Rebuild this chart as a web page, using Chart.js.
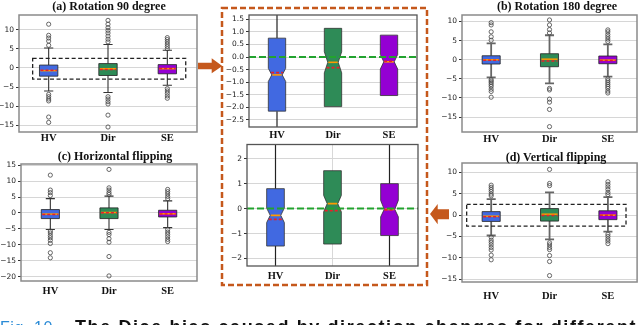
<!DOCTYPE html>
<html><head><meta charset="utf-8">
<script src="https://cdn.jsdelivr.net/npm/chart.js@4.4.1/dist/chart.umd.min.js"></script>
<style>
html,body{margin:0;padding:0;background:#fff}
body{width:640px;height:325px;overflow:hidden;position:relative}
canvas{position:absolute}
.ttl{position:absolute;font:bold 12px 'Liberation Serif',serif;white-space:nowrap;transform:translate(-50%,-50%);color:#111;line-height:14px}
#cap{position:absolute;left:0;top:317.5px;white-space:nowrap;font:bold 18px 'Liberation Sans',sans-serif;line-height:18px;color:#111;letter-spacing:1.6px}
#cap .fig{color:#2b8bd6;font-weight:normal;font-size:16px;letter-spacing:0.6px;display:inline-block;width:75px}
svg{position:absolute;left:0;top:0}
</style></head><body>
<canvas id="ca" width="205" height="145" style="left:0;top:0"></canvas>
<canvas id="cb" width="210" height="145" style="left:430px;top:0"></canvas>
<canvas id="cc" width="205" height="160" style="left:0;top:140px"></canvas>
<canvas id="cd" width="210" height="160" style="left:430px;top:140px"></canvas>
<canvas id="cmt" width="200" height="140" style="left:224px;top:0"></canvas>
<canvas id="cmb" width="200" height="142" style="left:224px;top:138px"></canvas>
<div class="ttl" style="left:109px;top:6px">(a) Rotation 90 degree</div>
<div class="ttl" style="left:557px;top:6px">(b) Rotation 180 degree</div>
<div class="ttl" style="left:115px;top:156px">(c) Horizontal flipping</div>
<div class="ttl" style="left:556px;top:157px">(d) Vertical flipping</div>
<svg width="640" height="325">
<rect x="222" y="8" width="205" height="277" fill="none" stroke="#c5581c" stroke-width="2.5" stroke-dasharray="6,3"/>
<polygon points="198,62.7 211.7,62.7 211.7,58.3 222.3,66 211.7,73.3 211.7,69.3 198,69.3" fill="#c5581c"/>
<polygon points="430,214 437.7,204 437.7,209.3 449,209.3 449,219.3 437.7,219.3 437.7,224.3" fill="#c5581c"/>
</svg>
<div id="cap"><span class="fig">Fig. 10.</span>The Dice bias caused by direction changes for different</div>
<script>
// ---------- data ----------
const categories = ['HV', 'Dir', 'SE'];

// Rotation 90 degree (panel a and its zoom)
const rot90Q1 = [-2.15, -1.97, -1.53];
const rot90Q3 = [0.75, 1.14, 0.87];
const rot90Median = [-0.71, -0.21, -0.19];
const rot90Mean = [-0.62, -0.42, -0.17];
const rot90NotchLo = [-0.97, -0.63, -0.48];
const rot90NotchHi = [-0.45, 0.21, 0.10];
const rot90WhiskerLo = [-6.0, -6.4, -4.5];
const rot90WhiskerHi = [5.2, 6.1, 4.6];
const rot90OutHV = [11.4, 8.5, 7.8, 7.0, 5.9, -6.9, -7.5, -8.1, -8.6, -12.8, -14.2];
const rot90OutDir = [12.4, 11.4, 10.5, 9.8, 9.1, 8.3, 7.5, 6.8, -7.5, -8.1, -8.8, -9.4, -12.3, -15.4];
const rot90OutSE = [7.9, 7.4, 6.8, 6.2, 5.6, 5.0, -5.4, -6.0, -6.6, -7.3, -7.9];

// Rotation 180 degree (panel b)
const rot180Q1 = [-1.12, -1.83, -1.04];
const rot180Q3 = [1.04, 1.57, 0.97];
const rot180Median = [0.0, 0.15, -0.1];
const rot180Mean = [-0.15, -0.3, -0.2];
const rot180WhiskerLo = [-4.6, -6.2, -4.4];
const rot180WhiskerHi = [4.3, 6.4, 4.0];
const rot180OutHV = [9.7, 9.1, 7.3, 6.0, 5.1, -5.2, -5.6, -6.0, -6.5, -7.0, -7.7, -8.3, -9.8];
const rot180OutDir = [10.4, 9.1, 7.9, 7.0, -7.5, -7.9, -10.3, -11.1, -13.0, -17.5];
const rot180OutSE = [7.8, 7.3, 6.6, 6.0, 5.4, 4.8, -5.0, -5.5, -6.0, -6.5, -7.0, -7.5, -8.2, -8.7];

// Horizontal flipping (panel c)
const hflipQ1 = [-1.77, -1.77, -1.26];
const hflipQ3 = [1.07, 1.6, 0.85];
const hflipMedian = [-0.35, 0.15, -0.25];
const hflipMean = [-0.45, 0.05, -0.35];
const hflipWhiskerLo = [-5.2, -5.2, -4.6];
const hflipWhiskerHi = [4.5, 5.3, 3.8];
const hflipOutHV = [11.9, 7.2, 6.4, 5.5, -5.7, -6.3, -7.1, -7.8, -8.6, -9.6, -12.5, -14.1];
const hflipOutDir = [13.7, 7.9, 7.2, 6.4, 5.8, -6.1, -6.8, -8.1, -9.2, -13.7, -19.8];
const hflipOutSE = [7.4, 6.7, 6.0, 5.2, 4.5, -5.2, -6.0, -6.7, -7.5, -8.3, -9.0];

// Vertical flipping (panel d and its zoom)
const vflipQ1 = [-1.5, -1.42, -1.08];
const vflipQ3 = [0.8, 1.52, 1.0];
const vflipMedian = [-0.27, 0.2, -0.03];
const vflipMean = [-0.43, -0.08, -0.05];
const vflipNotchLo = [-0.56, -0.13, -0.33];
const vflipNotchHi = [0.02, 0.53, 0.33];
const vflipWhiskerLo = [-4.8, -5.7, -3.9];
const vflipWhiskerHi = [3.75, 5.3, 4.2];
const vflipOutHV = [7.0, 6.5, 6.0, 5.5, 4.9, 4.5, -5.2, -5.9, -6.4, -7.0, -7.6, -8.2, -9.4, -10.5];
const vflipOutDir = [10.7, 7.4, 6.9, -6.5, -7.0, -7.6, -8.1, -9.5, -10.9, -14.2];
const vflipOutSE = [7.8, 7.2, 6.6, 6.0, 5.3, 4.8, -4.5, -5.0, -5.6, -6.1, -6.7];

// tick values
const ticksRotation = [-15, -10, -5, 0, 5, 10];
const ticksHflip = [-20, -15, -10, -5, 0, 5, 10, 15];
const ticksZoomTop = [-2.5, -2.0, -1.5, -1.0, -0.5, 0.0, 0.5, 1.0, 1.5];
const ticksZoomBottom = [-2, -1, 0, 1, 2];

// ---------- helpers ----------
const boxColors = ['#4169e1', '#2e8b57', '#9400d3'];
function makeStats(q1, q3, med, mean, wlo, whi, nlo, nhi) {
  return {q1, q3, med, mean, wlo, whi, nlo, nhi};
}
const rot90 = makeStats(rot90Q1, rot90Q3, rot90Median, rot90Mean, rot90WhiskerLo, rot90WhiskerHi, rot90NotchLo, rot90NotchHi);
const rot180 = makeStats(rot180Q1, rot180Q3, rot180Median, rot180Mean, rot180WhiskerLo, rot180WhiskerHi);
const hflip = makeStats(hflipQ1, hflipQ3, hflipMedian, hflipMean, hflipWhiskerLo, hflipWhiskerHi);
const vflip = makeStats(vflipQ1, vflipQ3, vflipMedian, vflipMean, vflipWhiskerLo, vflipWhiskerHi, vflipNotchLo, vflipNotchHi);

function fmtMinus(v, dec) {
  const s = Math.abs(v).toFixed(dec);
  return v < 0 ? '\u2212' + s : s;
}

function makeBoxPlugin(cfg) {
  return {
    id: 'boxplot',
    beforeDatasetsDraw(chart) {
      const {ctx, chartArea: a, scales: {x, y}} = chart;
      const s = cfg.stats;
      const P = v => y.getPixelForValue(v);
      ctx.save();
      ctx.beginPath(); ctx.rect(a.left, a.top, a.right - a.left, a.bottom - a.top); ctx.clip();
      const unit = x.getPixelForValue(1) - x.getPixelForValue(0);
      const hw = unit * cfg.boxFrac / 2;
      categories.forEach((c, i) => {
        const cx = x.getPixelForValue(i);
        if (cfg.whiskers[i]) {
          ctx.setLineDash([]);
          ctx.strokeStyle = cfg.whiskerColor; ctx.lineWidth = cfg.whiskerWidth;
          ctx.beginPath();
          ctx.moveTo(cx, P(s.q3[i])); ctx.lineTo(cx, P(s.whi[i]));
          ctx.moveTo(cx, P(s.q1[i])); ctx.lineTo(cx, P(s.wlo[i]));
          ctx.moveTo(cx - hw / 2, P(s.whi[i])); ctx.lineTo(cx + hw / 2, P(s.whi[i]));
          ctx.moveTo(cx - hw / 2, P(s.wlo[i])); ctx.lineTo(cx + hw / 2, P(s.wlo[i]));
          ctx.stroke();
        }
        const notch = cfg.notch && s.nlo;
        const ind = notch ? hw * cfg.notchDepth : 0;
        const L = cx - hw, R = cx + hw;
        ctx.beginPath();
        ctx.moveTo(L, P(s.q1[i]));
        if (notch) { ctx.lineTo(L, P(s.nlo[i])); ctx.lineTo(L + ind, P(s.med[i])); ctx.lineTo(L, P(s.nhi[i])); }
        ctx.lineTo(L, P(s.q3[i])); ctx.lineTo(R, P(s.q3[i]));
        if (notch) { ctx.lineTo(R, P(s.nhi[i])); ctx.lineTo(R - ind, P(s.med[i])); ctx.lineTo(R, P(s.nlo[i])); }
        ctx.lineTo(R, P(s.q1[i]));
        ctx.closePath();
        ctx.fillStyle = boxColors[i]; ctx.fill();
        ctx.strokeStyle = cfg.edgeColor; ctx.lineWidth = cfg.edgeWidth; ctx.stroke();
        const hwAt = v => {
          if (!notch) return hw - 1;
          const m = s.med[i];
          const e = v >= m ? s.nhi[i] : s.nlo[i];
          const t = Math.min(1, Math.abs(v - m) / Math.abs(e - m));
          return hw - ind * (1 - t) - 0.5;
        };
        const hm = hwAt(s.med[i]);
        ctx.strokeStyle = '#ff9a00'; ctx.lineWidth = cfg.medianWidth;
        ctx.beginPath(); ctx.moveTo(cx - hm, P(s.med[i])); ctx.lineTo(cx + hm, P(s.med[i])); ctx.stroke();
        const hmean = hwAt(s.mean[i]);
        ctx.setLineDash(cfg.meanDash);
        ctx.strokeStyle = '#e8202a'; ctx.lineWidth = cfg.meanWidth;
        ctx.beginPath(); ctx.moveTo(cx - hmean, P(s.mean[i])); ctx.lineTo(cx + hmean, P(s.mean[i])); ctx.stroke();
        ctx.setLineDash([]);
      });
      if (cfg.zeroLine) {
        ctx.setLineDash([7, 3]);
        ctx.strokeStyle = '#22a32e'; ctx.lineWidth = 2;
        ctx.beginPath(); ctx.moveTo(a.left, P(0)); ctx.lineTo(a.right, P(0)); ctx.stroke();
        ctx.setLineDash([]);
      }
      ctx.restore();
    },
    afterDatasetsDraw(chart) {
      const {ctx, chartArea: a, scales: {x, y}} = chart;
      ctx.save();
      if (cfg.highlight) {
        const h = cfg.highlight;
        ctx.setLineDash([4, 2.5]);
        ctx.strokeStyle = '#222'; ctx.lineWidth = 1.3;
        const x0 = x.getPixelForValue(h.x0), x1 = x.getPixelForValue(h.x1);
        const y0 = y.getPixelForValue(h.y1), y1 = y.getPixelForValue(h.y0);
        ctx.strokeRect(x0, y0, x1 - x0, y1 - y0);
        ctx.setLineDash([]);
      }
      ctx.strokeStyle = cfg.frameColor; ctx.lineWidth = cfg.frameWidth;
      ctx.strokeRect(a.left, a.top, a.right - a.left, a.bottom - a.top);
      ctx.restore();
    }
  };
}

function makeChart(canvasId, p) {
  const outliers = [p.outHV, p.outDir, p.outSE];
  const points = [];
  outliers.forEach((arr, i) => arr.forEach(v => points.push({x: i, y: v})));
  new Chart(document.getElementById(canvasId), {
    type: 'scatter',
    data: {
      datasets: [{
        data: points,
        pointRadius: p.pointRadius || 2.1,
        pointBorderWidth: 0.8,
        borderColor: '#444',
        backgroundColor: 'rgba(255,255,255,0)',
        pointHoverRadius: 0
      }]
    },
    options: {
      responsive: false,
      animation: false,
      events: [],
      layout: {padding: {left: 0, top: p.padT, right: p.padR, bottom: 0}},
      plugins: {legend: {display: false}, tooltip: {enabled: false}},
      scales: {
        x: {
          type: 'linear', min: -0.5, max: 2.5,
          afterBuildTicks: s => { s.ticks = categories.map((c, i) => ({value: i})); },
          afterFit: s => { s.height = p.xH; },
          ticks: {
            callback: v => categories[v],
            font: {family: 'Liberation Serif', weight: 'bold', size: 10.5},
            color: '#111', padding: p.xPad, maxRotation: 0, autoSkip: false
          },
          grid: {display: !!p.xGrid, drawTicks: false, color: '#d8d8d8', lineWidth: 1},
          border: {display: false}
        },
        y: {
          type: 'linear', min: p.ymin, max: p.ymax,
          afterBuildTicks: s => { s.ticks = p.yticks.map(v => ({value: v})); },
          afterFit: s => { s.width = p.yW; },
          ticks: {
            callback: v => fmtMinus(v, p.dec || 0),
            font: {family: 'DejaVu Sans', size: 7.5},
            color: '#222', padding: 2, autoSkip: false
          },
          grid: {color: '#d6d6d6', lineWidth: 1, tickLength: 3, tickColor: '#333', drawTicks: true},
          border: {display: false}
        }
      }
    },
    plugins: [makeBoxPlugin(p)]
  });
}

const outerStyle = {boxFrac: 0.31, edgeColor: '#222', edgeWidth: 0.8, whiskerColor: '#333', whiskerWidth: 1.1,
  medianWidth: 1.5, meanDash: [3, 2], meanWidth: 1.5, frameColor: '#8a8a8a', frameWidth: 1.5, notch: false,
  whiskers: [true, true, true]};
const innerStyle = {boxFrac: 0.31, edgeColor: '#333', edgeWidth: 0.8, whiskerColor: '#222', whiskerWidth: 1.2,
  medianWidth: 1.6, meanDash: [3, 2], meanWidth: 1.6, frameColor: '#555', frameWidth: 1.3, notch: true, notchDepth: 0.4,
  zeroLine: true};

makeChart('ca', Object.assign({}, outerStyle, {
  padT: 15, padR: 8, yW: 19, xH: 13, xPad: 0, ymin: -16.7, ymax: 13.8, yticks: ticksRotation,
  stats: rot90, outHV: rot90OutHV, outDir: rot90OutDir, outSE: rot90OutSE,
  highlight: {x0: -0.27, x1: 2.31, y0: -2.9, y1: 2.5}
}));
makeChart('cb', Object.assign({}, outerStyle, {
  padT: 15, padR: 3, yW: 32, xH: 13, xPad: 1, ymin: -18.9, ymax: 11.7, yticks: ticksRotation,
  stats: rot180, outHV: rot180OutHV, outDir: rot180OutDir, outSE: rot180OutSE,
  whiskerColor: '#666', whiskerWidth: 1.8
}));
makeChart('cc', Object.assign({}, outerStyle, {
  padT: 24, padR: 8, yW: 21, xH: 19, xPad: 4, ymin: -21.4, ymax: 15.4, yticks: ticksHflip,
  stats: hflip, outHV: hflipOutHV, outDir: hflipOutDir, outSE: hflipOutSE
}));
makeChart('cd', Object.assign({}, outerStyle, {
  padT: 23, padR: 1, yW: 32, xH: 18, xPad: 8, ymin: -15.7, ymax: 12.2, yticks: ticksRotation,
  stats: vflip, outHV: vflipOutHV, outDir: vflipOutDir, outSE: vflipOutSE,
  whiskerColor: '#666', whiskerWidth: 1.8,
  highlight: {x0: -0.42, x1: 2.31, y0: -2.6, y1: 2.5}
}));
makeChart('cmt', Object.assign({}, innerStyle, {
  padT: 15, padR: 7, yW: 25, xH: 13, xPad: 2, ymin: -2.78, ymax: 1.67, yticks: ticksZoomTop, dec: 1,
  stats: rot90, outHV: rot90OutHV, outDir: rot90OutDir, outSE: rot90OutSE,
  whiskers: [true, false, false]
}));
makeChart('cmb', Object.assign({}, innerStyle, {
  padT: 6, padR: 6, yW: 23, xH: 14, xPad: 4, ymin: -2.3, ymax: 2.57, yticks: ticksZoomBottom, xGrid: true,
  stats: vflip, outHV: vflipOutHV, outDir: vflipOutDir, outSE: vflipOutSE,
  whiskers: [true, false, true]
}));
</script>
</body></html>
